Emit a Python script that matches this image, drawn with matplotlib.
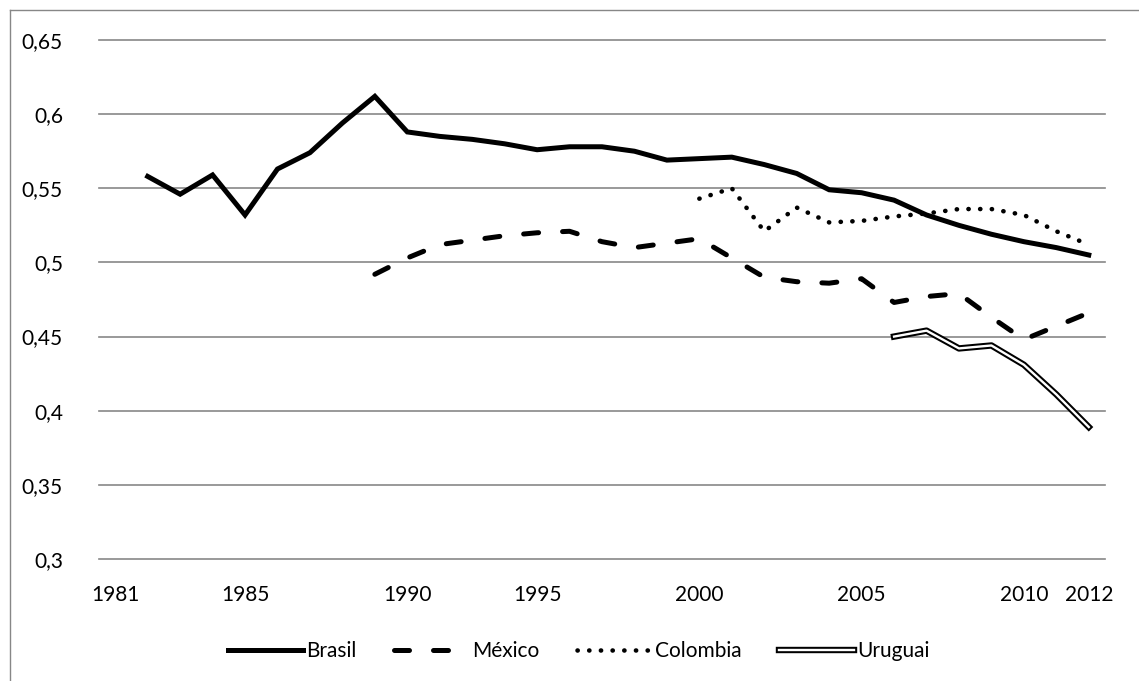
import numpy as np
import matplotlib
matplotlib.use("Agg")
import matplotlib.pyplot as plt
from matplotlib.lines import Line2D
import matplotlib.patheffects as pe

nan = np.nan
years = [str(y) for y in list(range(1981, 1991)) + list(range(1992, 2013))]
tick_labels = ["1981", "1985", "1990", "1995", "2000", "2005", "2010", "2012"]

brasil = [nan, 0.558, 0.546, 0.559, 0.532, 0.563, 0.574, 0.594, 0.612, 0.588,
          0.585, 0.583, 0.580, 0.576, 0.578, 0.578, 0.575, 0.569, 0.570, 0.571,
          0.566, 0.560, 0.549, 0.547, 0.542, 0.532, 0.525, 0.519, 0.514, 0.510, 0.505]
mexico = [nan, nan, nan, nan, nan, nan, nan, nan, 0.492, 0.503,
          0.512, 0.515, 0.518, 0.520, 0.521, 0.514, 0.510, 0.513, 0.516, 0.503,
          0.490, 0.487, 0.486, 0.489, 0.473, 0.477, 0.479, 0.463, 0.448, 0.457, 0.466]
colombia = [nan] * 18 + [0.543, 0.550, 0.521, 0.537, 0.527, 0.528, 0.531, 0.533,
                         0.536, 0.536, 0.532, 0.521, 0.512]
uruguai = [nan] * 24 + [0.450, 0.454, 0.442, 0.444, 0.431, 0.411, 0.389]
yticks = [0.3, 0.35, 0.4, 0.45, 0.5, 0.55, 0.6, 0.65]
ytick_labels = ["0,3", "0,35", "0,4", "0,45", "0,5", "0,55", "0,6", "0,65"]

plt.rcParams['font.family'] = ['Lato', 'DejaVu Sans']
FS = 15
W, H = 1139, 681
fig = plt.figure(figsize=(W / 100, H / 100), dpi=100)
ax = fig.add_axes([99 / W, 1 - 559 / H, (1105 - 99) / W, (559 - 40) / H])

x = np.arange(len(years))
grid_c = "#878787"
for yv in yticks:
    ax.axhline(yv, color=grid_c, lw=1.2, zorder=1, clip_on=False)

lw = 3.6
l1, = ax.plot(x, brasil, color="black", lw=lw, solid_joinstyle="miter", label="Brasil", zorder=3)
l2, = ax.plot(x, mexico, color="black", lw=lw, dash_capstyle="round", label="México", zorder=3)
l2.set_dashes((3.0, 4.8))
l3, = ax.plot(x, colombia, color="black", lw=3.3, dash_capstyle="round", label="Colombia", zorder=3)
l3.set_dashes((0.05, 2.5))
l4, = ax.plot(x, uruguai, color="white", lw=1.7, label="Uruguai", zorder=3,
              path_effects=[pe.Stroke(linewidth=4.6, foreground="black"), pe.Normal()])

ax.set_xlim(-0.5, len(years) - 0.5)
ax.set_ylim(0.3, 0.65)
ax.set_yticks(yticks)
ax.set_yticklabels(ytick_labels, fontsize=FS)
tick_pos = [years.index(t) for t in tick_labels]
ax.set_xticks(tick_pos)
ax.set_xticklabels(tick_labels, fontsize=FS)
ax.tick_params(axis="both", length=0)
ax.tick_params(axis="y", pad=26)
ax.tick_params(axis="x", pad=19)
for s in ax.spines.values():
    s.set_visible(False)

fig.legend(handles=[l1, l2, l3, l4], labels=["Brasil", "México", "Colombia", "Uruguai"],
           loc="center", bbox_to_anchor=(579 / W, 1 - 651 / H), ncol=4, frameon=False,
           fontsize=FS, handlelength=3.6, handletextpad=0.15, columnspacing=1.8)

# outer chart border (partially outside the image)
fig.add_artist(Line2D([9.5 / W, 9.5 / W], [0, 1 - 10 / H], color=grid_c, lw=1.0))
fig.add_artist(Line2D([9.5 / W, 1], [1 - 10 / H, 1 - 10 / H], color=grid_c, lw=1.0))

fig.savefig("out.png", dpi=100)
